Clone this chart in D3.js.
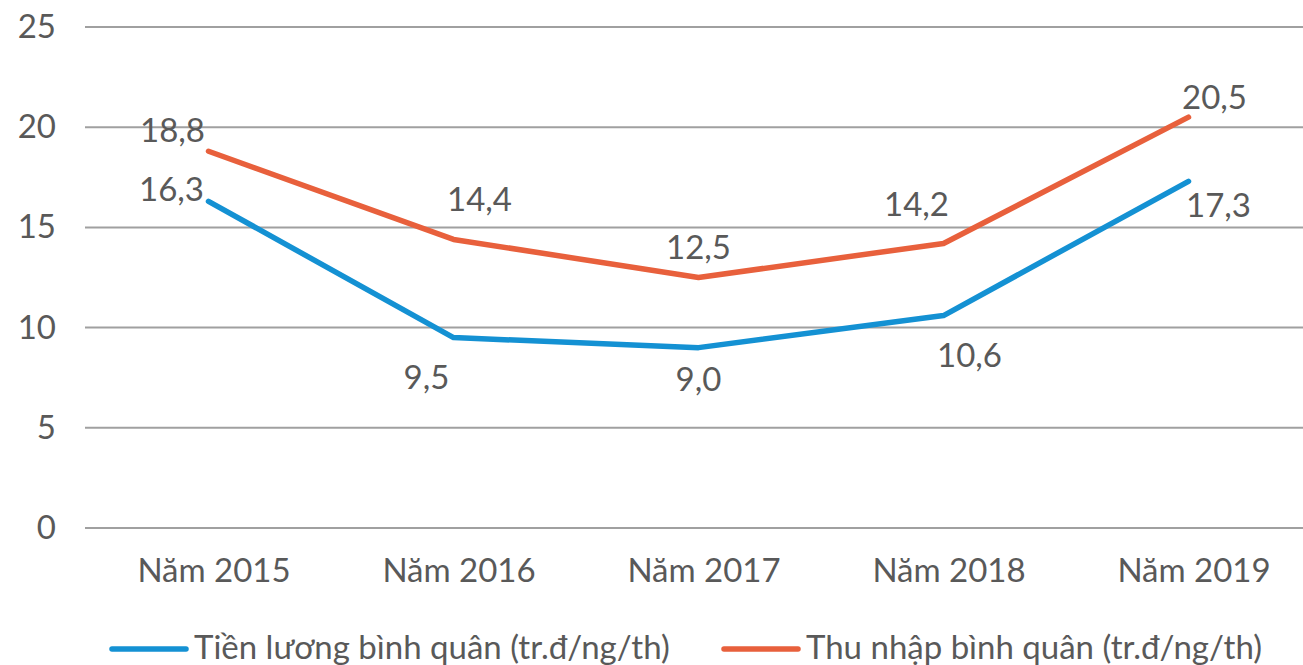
<!DOCTYPE html>
<html>
<head>
<meta charset="utf-8">
<script src="https://cdn.jsdelivr.net/npm/d3@7"></script>
<style>
  body { margin: 0; background: #fff; }
  text { font-family: Lato, "Open Sans", sans-serif; fill: #595959; }
</style>
</head>
<body>
<script>
"use strict";
(function(){
    const years = ["Năm 2015", "Năm 2016", "Năm 2017", "Năm 2018", "Năm 2019"];
    const tienLuong = [16.3, 9.5, 9.0, 10.6, 17.3];
    const thuNhap = [18.8, 14.4, 12.5, 14.2, 20.5];
    const seriesNames = ["Tiền lương bình quân (tr.đ/ng/th)", "Thu nhập bình quân (tr.đ/ng/th)"];
    const yTicks = [0, 5, 10, 15, 20, 25];

    // where each value label sits relative to its point
    const blueLabelOffset = [[-37, -12], [-27, 40], [0, 32], [26, 40], [30, 24]];
    const orangeLabelOffset = [[-36, -21], [26, -40], [0, -30], [-27, -39], [26, -20]];

    const size = { width: 1303, height: 665, left: 85, right: 1303, top: 27, bottom: 528 };
    const fontSize = "33px";
    const fmt = d3.format(".1f");
    const comma = (v) => fmt(v).replace(".", ",");

    const svg = d3.select("body").append("svg")
        .attr("width", size.width)
        .attr("height", size.height);

    const x = d3.scalePoint()
        .domain(years)
        .range([86, 1311])
        .padding(0.5);

    const y = d3.scaleLinear()
        .domain([0, 25])
        .range([size.bottom, size.top]);

    // gridlines
    svg.append("g")
        .selectAll("line")
        .data(yTicks)
        .enter()
        .append("line")
            .attr("x1", size.left)
            .attr("x2", size.right)
            .attr("y1", (d) => y(d))
            .attr("y2", (d) => y(d))
            .attr("stroke", "#a0a0a0")
            .attr("stroke-width", 2);

    const yAxis = d3.axisLeft(y).tickValues(yTicks).tickSize(0).tickPadding(0);
    const gy = svg.append("g")
        .attr("transform", "translate(56,0)")
        .call(yAxis);
    gy.select(".domain").remove();
    gy.selectAll("text").style("font-size", fontSize).attr("fill", "#595959");

    const xAxis = d3.axisBottom(x).tickSize(0).tickPadding(0);
    const gx = svg.append("g")
        .attr("transform", "translate(5,582)")
        .call(xAxis);
    gx.select(".domain").remove();
    gx.selectAll("text").style("font-size", fontSize).attr("fill", "#595959")
        .attr("y", 0).attr("dy", 0);

    const series = [
        { values: tienLuong, color: "#1491d3", offsets: blueLabelOffset },
        { values: thuNhap, color: "#e8603c", offsets: orangeLabelOffset }
    ];

    const line = d3.line()
        .x((d, i) => x(years[i]))
        .y((d) => y(d));

    series.forEach((s) => {
        svg.append("path")
            .datum(s.values)
            .attr("d", line)
            .attr("fill", "none")
            .attr("stroke", s.color)
            .attr("stroke-width", 5.5)
            .attr("stroke-linecap", "round")
            .attr("stroke-linejoin", "round");

        svg.append("g")
            .selectAll("text")
            .data(s.values)
            .enter()
            .append("text")
                .attr("x", (d, i) => x(years[i]) + s.offsets[i][0])
                .attr("y", (d, i) => y(d) + s.offsets[i][1])
                .attr("text-anchor", "middle")
                .attr("dy", "0.35em")
                .style("font-size", fontSize)
                .text((d) => comma(d));
    });

    // legend
    const legendX = [110, 722];
    const legend = svg.append("g").selectAll("g")
        .data(seriesNames)
        .enter()
        .append("g")
            .attr("transform", (d, i) => "translate(" + legendX[i] + ",649)");
    legend.append("line")
        .attr("x1", 2).attr("x2", 76)
        .attr("y1", 0).attr("y2", 0)
        .attr("stroke", (d, i) => series[i].color)
        .attr("stroke-width", 5.5)
        .attr("stroke-linecap", "round");
    legend.append("text")
        .attr("x", 84)
        .attr("y", 10)
        .style("font-size", fontSize)
        .text((d) => d);
})()
</script>
</body>
</html>
